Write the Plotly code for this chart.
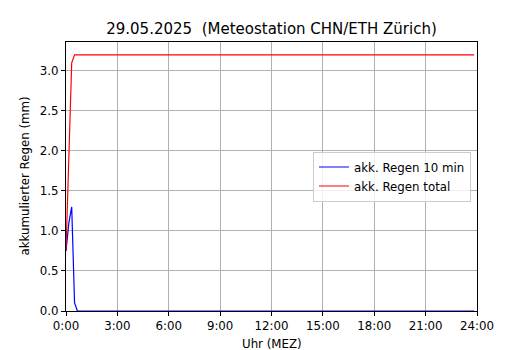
import plotly.graph_objects as go

# time in minutes after midnight, 10-minute steps
minutes = list(range(0, 1440, 10))
hours = [m / 60 for m in minutes]

# rain accumulated per 10 min (mm)
rain_10min = [0.75, 1.1, 1.3, 0.1] + [0.0] * 140
# cumulative rain (mm)
rain_total = [0.75, 1.85, 3.1, 3.2] + [3.2] * 140

tick_hours = [0, 3, 6, 9, 12, 15, 18, 21, 24]
tick_labels = ["0:00", "3:00", "6:00", "9:00", "12:00", "15:00", "18:00", "21:00", "24:00"]
y_ticks = [0.0, 0.5, 1.0, 1.5, 2.0, 2.5, 3.0]

font = "DejaVu Sans, sans-serif"
W, H = 530, 350
# page body has an 8px margin: figure coords = page coords - 8
L, R, T, B = 58, 469, 34, 303

fig = go.Figure()
fig.add_trace(go.Scatter(x=hours, y=rain_10min, mode="lines", name="akk. Regen 10 min",
                         line=dict(color="#0000ff", width=1.2)))
fig.add_trace(go.Scatter(x=hours, y=rain_total, mode="lines", name="akk. Regen total",
                         line=dict(color="#ff0000", width=1.2)))

axis_common = dict(showline=True, linecolor="black", linewidth=1, mirror=True,
                   ticks="outside", ticklen=4, tickcolor="black", tickwidth=1,
                   showgrid=True, gridcolor="#b0b0b0", gridwidth=0.9, zeroline=False,
                   automargin=False,
                   tickfont=dict(family=font, size=11.8, color="black"))

pw, ph = R - L, B - T

fig.update_layout(
    width=W, height=H,
    margin=dict(l=L, r=W - R, t=T, b=H - B),
    paper_bgcolor="white", plot_bgcolor="white",
    title=dict(text="29.05.2025\u00a0\u00a0(Meteostation CHN/ETH Zürich)",
               x=0.5, xanchor="center", xref="paper",
               y=1 - 21 / H, yanchor="middle", yref="container",
               font=dict(family=font, size=15, color="black")),
    xaxis=dict(range=[0, 24], tickvals=tick_hours, ticktext=tick_labels, **axis_common),
    yaxis=dict(range=[0, 3.36], tickvals=y_ticks, tickformat=".1f", **axis_common),
    legend=dict(x=(463 - L) / pw, xanchor="right", y=(B - 168.5) / ph, yanchor="middle",
                bgcolor="rgba(255,255,255,0.8)", bordercolor="#cccccc", borderwidth=1,
                font=dict(family=font, size=11.8, color="black"),
                tracegroupgap=0, itemwidth=30),
    showlegend=True,
    annotations=[
        dict(text="Uhr (MEZ)", xref="paper", yref="paper", x=0.5, xanchor="center",
             y=-(336 - B) / ph, yanchor="middle", showarrow=False,
             font=dict(family=font, size=11.8, color="black")),
        dict(text="akkumulierter Regen (mm)", xref="paper", yref="paper",
             x=-(L - 16) / pw, xanchor="center", y=0.5, yanchor="middle", textangle=-90,
             showarrow=False, font=dict(family=font, size=11.8, color="black")),
    ],
)

fig.write_html("out.html")
